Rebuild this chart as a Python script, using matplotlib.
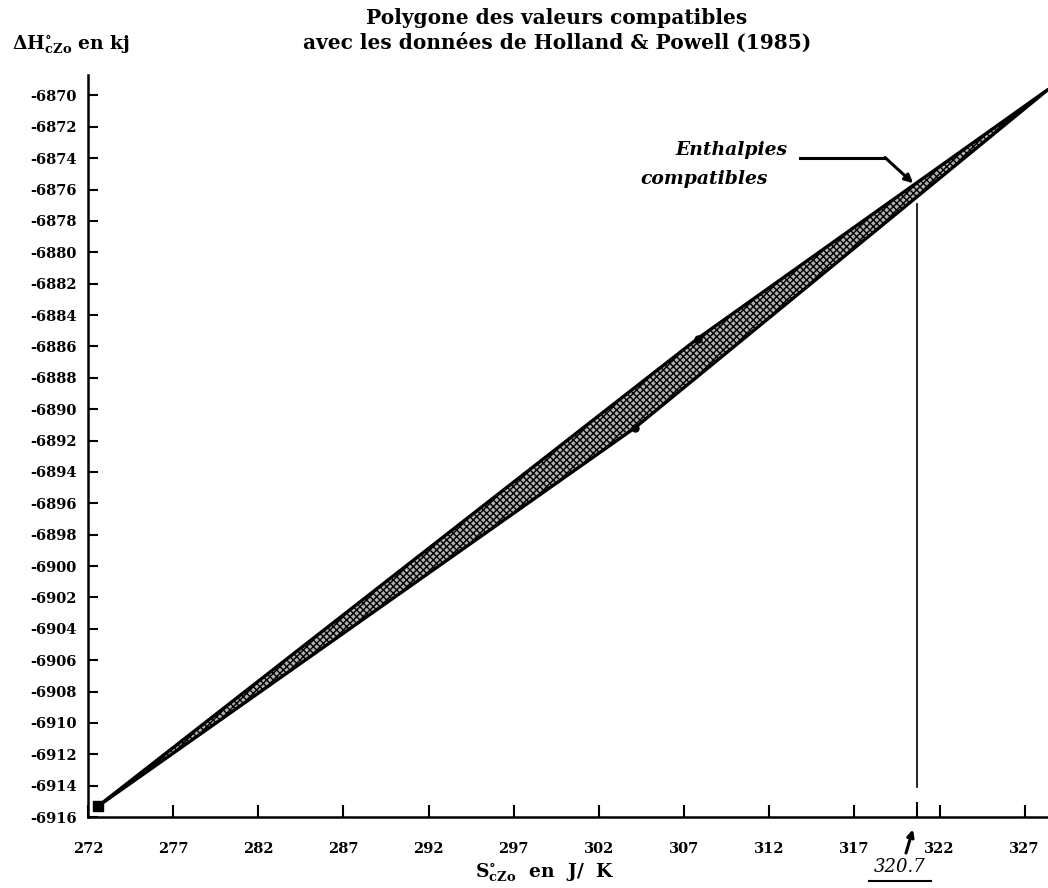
import numpy as np
import matplotlib
matplotlib.use("Agg")
import matplotlib.pyplot as plt
from matplotlib.patches import Polygon

plt.rcParams['axes.unicode_minus'] = False
plt.rcParams['font.family'] = ['DejaVu Serif']
plt.rcParams['mathtext.fontset'] = 'dejavuserif'
plt.rcParams['hatch.linewidth'] = 1.0

# polygon edges (S in J/K, dH in kJ)
s_upper = [272.6, 307.8, 328.4]
h_upper = [-6915.3, -6885.5, -6869.6]
s_lower = [272.6, 304.1, 328.4]
h_lower = [-6915.3, -6891.2, -6869.6]

# marked vertices
s_start, h_start = 272.6, -6915.3
s_dots = [307.8, 304.1]
h_dots = [-6885.5, -6891.2]

s_mark = 320.7
h_mark_top, h_mark_bot = -6876.9, -6914.1

xticks = np.arange(272, 328, 5)
yticks = np.arange(-6916, -6869, 2)

fig = plt.figure(figsize=(10.48, 8.88), dpi=100)
ax = fig.add_axes([88/1048, 71/888, 960/1048, 742/888])

#[1] the shaded lens of compatible values
verts = list(zip(s_upper, h_upper)) + list(zip(s_lower[::-1], h_lower[::-1]))
poly = Polygon(verts, closed=True, facecolor='#b0b0b0', edgecolor='black',
               hatch='xxxxx', linewidth=2.4)
ax.add_patch(poly)

ax.plot([s_start], [h_start], marker='s', color='black', markersize=7)
ax.plot(s_dots, h_dots, 'o', color='black', markersize=5)

#[2] vertical marker at 320.7
ax.plot([s_mark, s_mark], [h_mark_top, h_mark_bot], color='black', lw=1.2)

#[3] label with leader
ax.text(313.05, -6873.5, "Enthalpies", ha='right', va='center',
        fontsize=13.5, fontweight='bold', fontstyle='italic')
ax.text(311.9, -6875.35, "compatibles", ha='right', va='center',
        fontsize=13.5, fontweight='bold', fontstyle='italic')
ax.plot([313.8, 318.8], [-6873.96, -6873.96], color='black', lw=2.2)
ax.annotate("", xy=(320.45, -6875.6), xytext=(318.8, -6873.96),
            arrowprops=dict(arrowstyle='-|>', lw=2.2, color='black',
                            mutation_scale=12, shrinkA=0, shrinkB=0))

# arrow and value under the axis
ax.annotate("", xy=(320.44, -6916.8), xytext=(320.03, -6918.3),
            arrowprops=dict(arrowstyle='-|>', lw=2.2, color='black',
                            mutation_scale=10, shrinkA=0, shrinkB=0),
            annotation_clip=False)
fig.text(900/1048, 1 - 867/888, "320.7", ha='center', va='center',
         fontsize=13, fontstyle='italic')
fig.add_artist(plt.Line2D([869/1048, 931/1048], [1 - 881/888, 1 - 881/888],
                          color='black', lw=1.5))

#[4] axes
ax.set_xlim(272, 328.37)
ax.set_ylim(-6916, -6868.7)
ax.spines['top'].set_visible(False)
ax.spines['right'].set_visible(False)
ax.spines['left'].set_linewidth(1.8)
ax.spines['bottom'].set_linewidth(1.8)
ax.set_xticks(xticks)
ax.set_yticks(yticks)
ax.set_xticks([s_mark], minor=True)
ax.tick_params(axis='x', direction='in', length=9, width=1.5, pad=18)
ax.tick_params(axis='x', which='minor', direction='in', length=11, width=1.5)
ax.tick_params(axis='y', direction='in', length=7, width=1.5, pad=8)
for lab in ax.get_xticklabels() + ax.get_yticklabels():
    lab.set_fontweight('bold')
    lab.set_fontsize(10.5)

fig.text(557/1048, 1 - 24/888, "Polygone des valeurs compatibles",
         ha='center', va='baseline', fontsize=14.5, fontweight='bold')
fig.text(557/1048, 1 - 49/888, "avec les données de Holland & Powell (1985)",
         ha='center', va='baseline', fontsize=14.5, fontweight='bold')
fig.text(12/1048, 1 - 45/888, r"$\mathbf{\Delta H^{\circ}_{cZo}}$ en kj",
         ha='left', va='center', fontsize=13.5, fontweight='bold')
fig.text(545/1048, 1 - 872/888, r"$\mathbf{S^{\circ}_{cZo}}$  en  J/  K",
         ha='center', va='center', fontsize=13.5, fontweight='bold')

fig.savefig("out.png", dpi=100)
